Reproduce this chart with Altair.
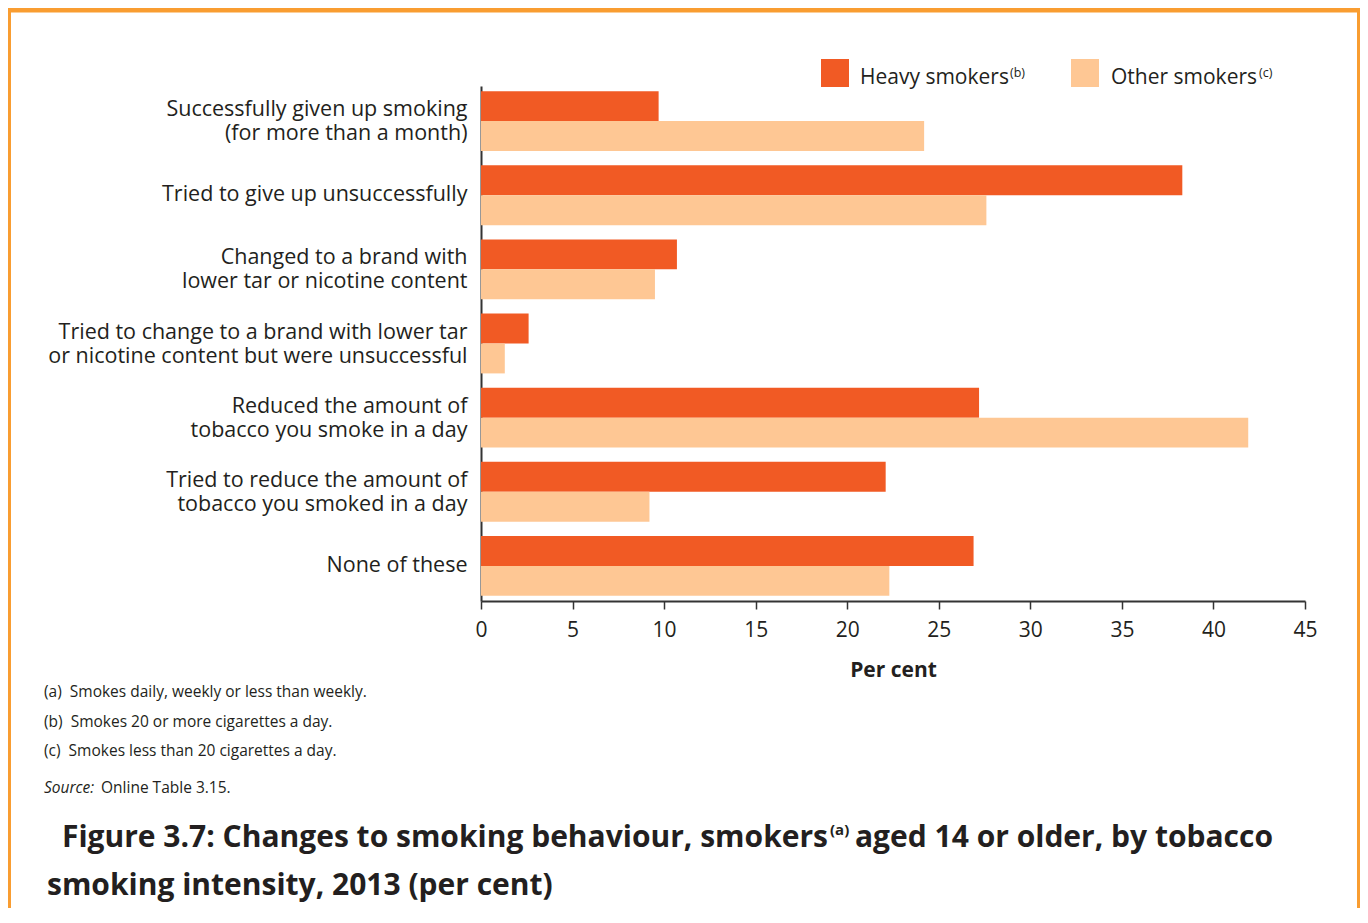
import altair as alt
import pandas as pd

# ---------------- data ----------------
categories = [
    "Successfully given up smoking|(for more than a month)",
    "Tried to give up unsuccessfully",
    "Changed to a brand with|lower tar or nicotine content",
    "Tried to change to a brand with lower tar|or nicotine content but were unsuccessful",
    "Reduced the amount of|tobacco you smoke in a day",
    "Tried to reduce the amount of|tobacco you smoked in a day",
    "None of these",
]
heavy = [9.7, 38.3, 10.7, 2.6, 27.2, 22.1, 26.9]
other = [24.2, 27.6, 9.5, 1.3, 41.9, 9.2, 22.3]
series = ["Heavy smokers", "Other smokers"]
series_sup = ["(b)", "(c)"]
colors = ["#F15A24", "#FEC794"]
x_ticks = [0, 5, 10, 15, 20, 25, 30, 35, 40, 45]

title_part1 = "Figure 3.7: Changes to smoking behaviour, smokers"
title_sup = "(a)"
title_part2 = "aged 14 or older, by tobacco"
title_line2 = "smoking intensity, 2013 (per cent)"
notes = [
    "(a)\u00a0\u00a0Smokes daily, weekly or less than weekly.",
    "(b)\u00a0\u00a0Smokes 20 or more cigarettes a day.",
    "(c)\u00a0\u00a0Smokes less than 20 cigarettes a day.",
]
source_label = "Source:"
source_text = "Online Table 3.15."

rows = []
for c, h, o in zip(categories, heavy, other):
    rows.append({"category": c, "series": series[0], "value": h})
    rows.append({"category": c, "series": series[1], "value": o})
df = pd.DataFrame(rows)

FONT = "Open Sans"
TEXT = "#231F20"
AXIS = "#333333"
BORDER = "#F99D31"

W, H = 824, 515
PAD = {"left": 473, "top": 78, "right": 55, "bottom": 307}

one = pd.DataFrame({"k": [0]})

bars = alt.Chart(df).mark_bar().encode(
    x=alt.X(
        "value:Q",
        scale=alt.Scale(domain=[0, 45], nice=False, zero=True),
        axis=alt.Axis(
            values=x_ticks, title="Per cent", grid=False,
            domainColor=AXIS, domainWidth=2, tickColor=AXIS, tickWidth=1.5,
            tickSize=8, labelFontSize=21, labelPadding=10, labelColor=TEXT,
            labelFont=FONT, titleFont=FONT, titleFontSize=21,
            titleFontWeight="bold", titleColor=TEXT, titlePadding=19,
            labelFlush=False,
        ),
    ),
    y=alt.Y(
        "category:N", sort=categories,
        scale=alt.Scale(paddingInner=0.193, paddingOuter=0.07),
        axis=alt.Axis(
            title=None, ticks=False, domainColor=AXIS, domainWidth=2,
            labelExpr="split(datum.label, '|')", labelFontSize=21.5,
            labelFont=FONT, labelColor=TEXT, labelPadding=14,
            labelLineHeight=24, labelLimit=600,
            labelOffset={
                "condition": {"test": "indexof(datum.value, '|') >= 0", "value": -11},
                "value": 0,
            },
        ),
    ),
    yOffset=alt.YOffset("series:N", sort=series,
                        scale=alt.Scale(paddingInner=0, paddingOuter=0)),
    color=alt.Color("series:N", scale=alt.Scale(domain=series, range=colors),
                    legend=None),
)

layers = [bars]

# legend (manual, top right)
leg_sq_x = [340, 590]
leg_txt_x = [379, 630]
leg_sup_x = [529, 778]
for i in range(2):
    layers.append(
        alt.Chart(one).mark_rect(color=colors[i]).encode(
            x=alt.value(leg_sq_x[i]), x2=alt.value(leg_sq_x[i] + 28),
            y=alt.value(-27), y2=alt.value(1),
        )
    )
    layers.append(
        alt.Chart(one).mark_text(
            text=series[i], align="left", baseline="alphabetic",
            font=FONT, fontSize=21, color=TEXT,
        ).encode(x=alt.value(leg_txt_x[i]), y=alt.value(-2))
    )
    layers.append(
        alt.Chart(one).mark_text(
            text=series_sup[i], align="left", baseline="alphabetic",
            font=FONT, fontSize=12.5, color=TEXT,
        ).encode(x=alt.value(leg_sup_x[i]), y=alt.value(-9))
    )

# footnotes
note_y = [611, 641, 670]
for t, yy in zip(notes, note_y):
    layers.append(
        alt.Chart(one).mark_text(
            text=t, align="left", baseline="alphabetic",
            font=FONT, fontSize=15.5, color=TEXT,
        ).encode(x=alt.value(-437), y=alt.value(yy))
    )
layers.append(
    alt.Chart(one).mark_text(
        text=source_label, align="left", baseline="alphabetic",
        font=FONT, fontSize=15.5, fontStyle="italic", color=TEXT,
    ).encode(x=alt.value(-437), y=alt.value(707))
)
layers.append(
    alt.Chart(one).mark_text(
        text=source_text, align="left", baseline="alphabetic",
        font=FONT, fontSize=15.5, color=TEXT,
    ).encode(x=alt.value(-380), y=alt.value(707))
)

# figure title
layers.append(
    alt.Chart(one).mark_text(
        text=title_part1, align="right", baseline="alphabetic",
        font=FONT, fontSize=30, fontWeight="bold", color=TEXT,
    ).encode(x=alt.value(347), y=alt.value(761))
)
layers.append(
    alt.Chart(one).mark_text(
        text=title_sup, align="left", baseline="alphabetic",
        font=FONT, fontSize=15, fontWeight="bold", color=TEXT,
    ).encode(x=alt.value(349), y=alt.value(749))
)
layers.append(
    alt.Chart(one).mark_text(
        text=title_part2, align="left", baseline="alphabetic",
        font=FONT, fontSize=30, fontWeight="bold", color=TEXT,
    ).encode(x=alt.value(374), y=alt.value(761))
)
layers.append(
    alt.Chart(one).mark_text(
        text=title_line2, align="left", baseline="alphabetic",
        font=FONT, fontSize=30, fontWeight="bold", color=TEXT,
    ).encode(x=alt.value(-434), y=alt.value(809))
)

# orange frame
layers.append(
    alt.Chart(one).mark_rect(fill="transparent", stroke=BORDER, strokeWidth=5).encode(
        x=alt.value(-472.5), x2=alt.value(878.5),
        y=alt.value(-76), y2=alt.value(950),
    )
)

chart = alt.layer(*layers).properties(
    width=W, height=H,
    autosize=alt.AutoSizeParams(type="none"),
    padding=PAD,
    background="white",
).configure_view(stroke=None)

chart.save("out.html", embed_options={"renderer": "svg", "actions": False})
